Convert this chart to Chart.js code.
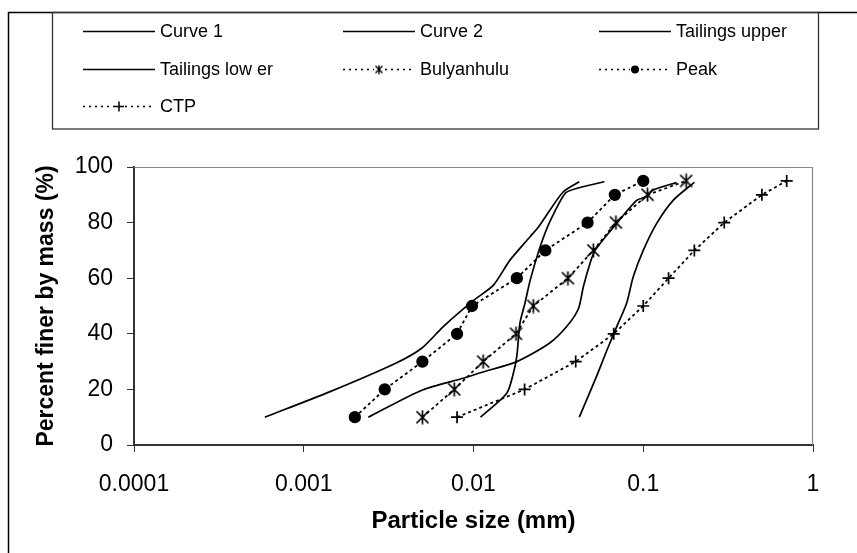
<!DOCTYPE html>
<html><head><meta charset="utf-8">
<script src="https://cdn.jsdelivr.net/npm/chart.js@4/dist/chart.umd.min.js"></script>
<style>html,body{margin:0;padding:0;background:#fff}canvas{display:block}</style>
</head><body>
<canvas id="c" width="857" height="553"></canvas>
<script>
// ---- Data ----
const seriesNames = ['Curve 1', 'Curve 2', 'Tailings upper', 'Tailings low er', 'Bulyanhulu', 'Peak', 'CTP'];

const curve1Size = [0.00059, 0.00143, 0.00353, 0.00495, 0.00664, 0.01, 0.0131, 0.0164, 0.0216, 0.0245, 0.0337, 0.042];
const curve1Pct  = [10, 19.2, 29.6, 34.8, 42.6, 52, 57.5, 66.5, 75, 79, 91, 94.7];

const curve2Size = [0.0024, 0.005, 0.0087, 0.011, 0.018, 0.028, 0.0354, 0.0415, 0.0444, 0.0486, 0.052, 0.0697, 0.0914, 0.104, 0.1145, 0.157];
const curve2Pct  = [10, 19.8, 24, 26, 30, 36.6, 42.6, 49, 57, 65.4, 70, 79.7, 88, 89.3, 91.7, 94.4];

const tailUpperSize = [0.011, 0.0157, 0.0172, 0.018, 0.0188, 0.0201, 0.0216, 0.0247, 0.028, 0.0346, 0.039, 0.059];
const tailUpperPct  = [10, 18.6, 26, 32, 44, 51, 59.4, 71.3, 80, 90.5, 92, 94.7];

const tailLowerSize = [0.042, 0.053, 0.061, 0.0697, 0.0798, 0.0873, 0.1, 0.12, 0.15, 0.2];
const tailLowerPct  = [10, 24.6, 34, 42.5, 51, 60.5, 70, 79.7, 88, 94.5];

const bulyanhuluSize = [0.005, 0.0077, 0.0114, 0.0178, 0.0225, 0.036, 0.0508, 0.069, 0.106, 0.179];
const bulyanhuluPct  = [10, 20, 30, 40, 50, 60, 70, 80, 90, 95];

const peakSize = [0.002, 0.003, 0.005, 0.008, 0.0098, 0.018, 0.0265, 0.047, 0.068, 0.1];
const peakPct  = [10, 20, 30, 40, 50, 60, 70, 80, 90, 95];

const ctpSize = [0.008, 0.02, 0.04, 0.067, 0.1, 0.141, 0.2, 0.3, 0.5, 0.7];
const ctpPct  = [10, 20, 30, 40, 50, 60, 70, 80, 90, 95];

const xTickValues = [0.0001, 0.001, 0.01, 0.1, 1];
const xTickLabels = ['0.0001', '0.001', '0.01', '0.1', '1'];
const yTickValues = [0, 20, 40, 60, 80, 100];

// ---- helpers ----
function zip(xs, ys) { return xs.map((x, i) => ({ x: x, y: ys[i] })); }

// asterisk marker (X with a vertical bar)
function makeAsterisk(size, lw) {
  const cv = document.createElement('canvas');
  cv.width = size; cv.height = size;
  const g = cv.getContext('2d');
  const m = 1.5, e = size - 1.5, c = size / 2;
  g.strokeStyle = '#000'; g.lineWidth = lw;
  g.beginPath();
  g.moveTo(m, m); g.lineTo(e, e);
  g.moveTo(e, m); g.lineTo(m, e);
  g.moveTo(c, 0.5); g.lineTo(c, size - 0.5);
  g.stroke();
  return cv;
}
const asterisk = makeAsterisk(15, 1.7);
const asteriskSmall = makeAsterisk(10, 1.4);

function solid(label, xs, ys) {
  return { label: label, data: zip(xs, ys), borderColor: '#000', borderWidth: 1.7,
    pointRadius: 0, pointHoverRadius: 0, tension: 0.25, fill: false };
}
function marked(label, xs, ys, style, radius, legendStyle) {
  return { label: label, data: zip(xs, ys), borderColor: '#000', backgroundColor: '#000',
    borderWidth: 1.8, borderDash: [3, 3], pointStyle: style, pointRadius: radius,
    pointBorderWidth: 1.7, pointBorderColor: '#000', pointBackgroundColor: '#000',
    tension: 0, fill: false, legendStyle: legendStyle };
}

const datasets = [
  solid(seriesNames[0], curve1Size, curve1Pct),
  solid(seriesNames[1], curve2Size, curve2Pct),
  solid(seriesNames[2], tailUpperSize, tailUpperPct),
  solid(seriesNames[3], tailLowerSize, tailLowerPct),
  marked(seriesNames[4], bulyanhuluSize, bulyanhuluPct, asterisk, 7, asteriskSmall),
  marked(seriesNames[5], peakSize, peakPct, 'circle', 5.3, 'circle'),
  marked(seriesNames[6], ctpSize, ctpPct, 'cross', 6, 'cross')
];

const FONT = '"Liberation Sans", Arial, sans-serif';

const framePlugin = {
  id: 'frame',
  beforeDraw(chart) {
    const ctx = chart.ctx;
    ctx.save();
    ctx.fillStyle = '#fff';
    ctx.fillRect(0, 0, chart.width, chart.height);
    ctx.restore();
  },
  afterDraw(chart) {
    const ctx = chart.ctx;
    const a = chart.chartArea;
    ctx.save();
    // outer frame (left + top)
    ctx.strokeStyle = '#000'; ctx.lineWidth = 1.5;
    ctx.beginPath();
    ctx.moveTo(8.5, chart.height); ctx.lineTo(8.5, 12.5); ctx.lineTo(chart.width, 12.5);
    ctx.stroke();
    // legend box
    ctx.strokeStyle = '#333'; ctx.lineWidth = 1.3;
    ctx.strokeRect(52.5, 12.5, 766, 116.5);
    // plot border top/right
    ctx.strokeStyle = '#888'; ctx.lineWidth = 1.2;
    ctx.beginPath();
    ctx.moveTo(a.left, a.top + 0.5); ctx.lineTo(a.right - 0.5, a.top + 0.5); ctx.lineTo(a.right - 0.5, a.bottom);
    ctx.stroke();

    // legend entries (3 columns)
    const cols = [83, 343, 599];
    const rows = [31.5, 69.5, 106.5];
    const lineLen = 72;
    chart.data.datasets.forEach((ds, i) => {
      const x0 = cols[i % 3], y = rows[Math.floor(i / 3)];
      ctx.strokeStyle = '#000';
      ctx.lineWidth = ds.borderDash ? 1.5 : 1.6;
      ctx.setLineDash(ds.borderDash ? [2, 4] : []);
      ctx.beginPath(); ctx.moveTo(x0, y); ctx.lineTo(x0 + lineLen, y); ctx.stroke();
      ctx.setLineDash([]);
      if (ds.legendStyle) {
        const mx = x0 + lineLen / 2;
        ctx.fillStyle = '#fff';
        ctx.fillRect(mx - 5, y - 5, 10, 10);
        ctx.fillStyle = '#000';
        if (ds.legendStyle === 'circle') {
          ctx.beginPath(); ctx.arc(mx, y, 4, 0, Math.PI * 2); ctx.fill();
        } else if (ds.legendStyle === 'cross') {
          ctx.lineWidth = 1.5;
          ctx.beginPath(); ctx.moveTo(mx - 5, y); ctx.lineTo(mx + 5, y);
          ctx.moveTo(mx, y - 5); ctx.lineTo(mx, y + 5); ctx.stroke();
        } else {
          ctx.drawImage(ds.legendStyle, mx - 5, y - 5);
        }
      }
      ctx.fillStyle = '#000';
      ctx.font = '18px ' + FONT;
      ctx.textBaseline = 'middle';
      ctx.textAlign = 'left';
      ctx.fillText(ds.label, x0 + lineLen + 5, y + 1);
    });
    ctx.restore();
  }
};

new Chart(document.getElementById('c'), {
  type: 'line',
  data: { datasets: datasets },
  options: {
    responsive: false,
    animation: false,
    events: [],
    layout: { padding: { top: 167, right: 44, left: 0, bottom: 0 } },
    plugins: { legend: { display: false }, tooltip: { enabled: false } },
    scales: {
      x: {
        type: 'logarithmic',
        min: 0.0001, max: 1,
        afterBuildTicks: (s) => { s.ticks = xTickValues.map(v => ({ value: v })); },
        afterFit: (s) => { s.height = 108; },
        ticks: {
          autoSkip: false, maxRotation: 0, padding: 19, color: '#000',
          font: { family: FONT, size: 23 },
          callback: (v, i) => xTickLabels[i]
        },
        grid: { drawOnChartArea: false, drawTicks: true, tickLength: 7, color: '#333', lineWidth: 1 },
        border: { display: true, color: '#333', width: 2 },
        title: { display: true, text: 'Particle size (mm)', color: '#000',
          font: { family: FONT, size: 24, weight: 'bold' }, padding: { top: 0, bottom: 17 } }
      },
      y: {
        type: 'linear',
        min: 0, max: 100,
        afterBuildTicks: (s) => { s.ticks = yTickValues.map(v => ({ value: v })); },
        afterFit: (s) => { s.width = 134; },
        ticks: { padding: 14, color: '#000', font: { family: FONT, size: 23 } },
        grid: { drawOnChartArea: false, drawTicks: true, tickLength: 7, color: '#333', lineWidth: 1 },
        border: { display: true, color: '#333', width: 2 },
        title: { display: true, text: 'Percent finer by mass (%)', color: '#000',
          font: { family: FONT, size: 23, weight: 'bold' }, padding: { top: 33, bottom: 0 } }
      }
    }
  },
  plugins: [framePlugin]
});
</script>
</body></html>
